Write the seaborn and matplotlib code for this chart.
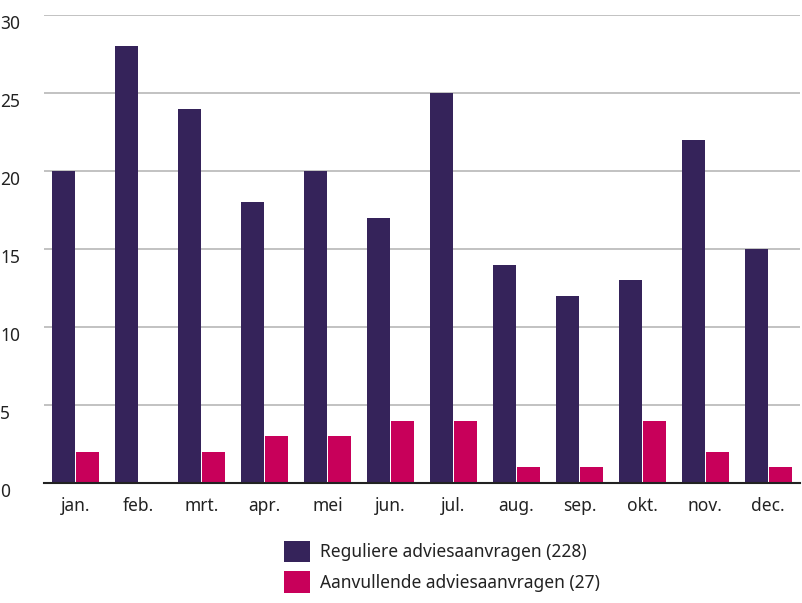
import matplotlib
matplotlib.use('Agg')
import matplotlib.pyplot as plt
from matplotlib.patches import Patch
import seaborn as sns
import pandas as pd

# data
maanden = ['jan.', 'feb.', 'mrt.', 'apr.', 'mei', 'jun.', 'jul.', 'aug.',
           'sep.', 'okt.', 'nov.', 'dec.']
regulier = [20, 28, 24, 18, 20, 17, 25, 14, 12, 13, 22, 15]
aanvullend = [2, 0, 2, 3, 3, 4, 4, 1, 1, 4, 2, 1]
reeksen = ['Reguliere adviesaanvragen (228)', 'Aanvullende adviesaanvragen (27)']
kleuren = ['#35235a', '#c8005a']

df = pd.DataFrame({
    'maand': maanden * 2,
    'aantal': regulier + aanvullend,
    'reeks': [reeksen[0]] * 12 + [reeksen[1]] * 12,
})

sns.set_style('white')
plt.rcParams['font.family'] = ['Noto Sans', 'DejaVu Sans']

fig = plt.figure(figsize=(8.03, 6.03), dpi=100)
ax = fig.add_axes([0.055, 0.199, 0.941, 0.776])

sns.barplot(data=df, x='maand', y='aantal', hue='reeks', order=maanden,
            hue_order=reeksen, palette=kleuren, width=0.77, gap=0.06,
            saturation=1, legend=False, linewidth=0, ax=ax)

ax.set_ylim(0, 30)
ax.set_xlim(-0.5, 11.5)
ax.set_yticks(range(0, 31, 5))
ax.yaxis.grid(True, color='#bdbdbd', linewidth=1.3)
ax.set_axisbelow(True)
for s in ['top', 'right', 'left']:
    ax.spines[s].set_visible(False)
ax.spines['bottom'].set_color('#222222')
ax.spines['bottom'].set_linewidth(1.5)
ax.set_xlabel('')
ax.set_ylabel('')
ax.tick_params(axis='both', length=0, labelsize=12.5, colors='#222222')
ax.tick_params(axis='x', pad=10)
ax.yaxis.set_tick_params(pad=0)
for lbl in ax.get_yticklabels():
    lbl.set_transform(ax.get_yaxis_transform())
    lbl.set_position((-0.058, lbl.get_position()[1]))
    lbl.set_horizontalalignment('left')
    lbl.set_verticalalignment('top')

handles = [Patch(facecolor=k, edgecolor='none') for k in kleuren]
fig.legend(handles, reeksen, loc='upper left', bbox_to_anchor=(0.345, 0.115),
           frameon=False, fontsize=12.5, handlelength=1.5, handleheight=1.5,
           handletextpad=0.6, labelspacing=0.55, borderaxespad=0,
           labelcolor='#222222')

fig.savefig('out.png', dpi=100)
